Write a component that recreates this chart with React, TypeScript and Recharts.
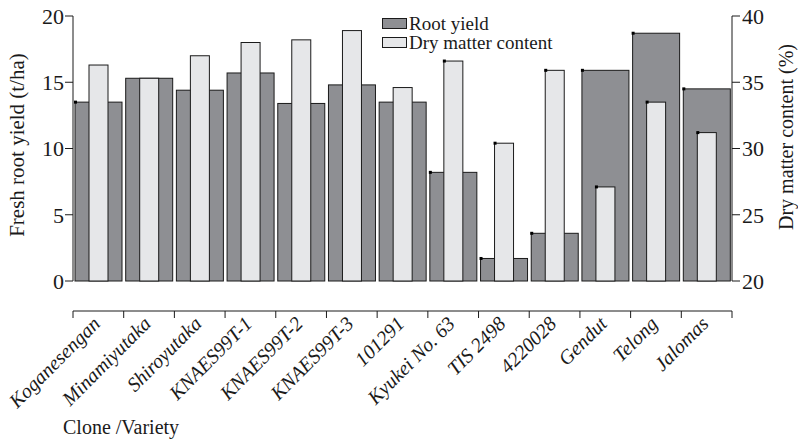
import React from 'react';
import { BarChart, Bar, XAxis, YAxis, Legend } from 'recharts';

const clones = [
  'Koganesengan', 'Minamiyutaka', 'Shiroyutaka', 'KNAES99T-1', 'KNAES99T-2', 'KNAES99T-3',
  '101291', 'Kyukei No. 63', 'TIS 2498', '4220028', 'Gendut', 'Telong', 'Jalomas',
];
const rootYield = [13.5, 15.3, 14.4, 15.7, 13.4, 14.8, 13.5, 8.2, 1.7, 3.6, 15.9, 18.7, 14.5];
const dryMatter = [36.3, 35.3, 37.0, 38.0, 38.2, 38.9, 34.6, 36.6, 30.4, 35.9, 27.1, 33.5, 31.2];
const yieldTicks = [0, 5, 10, 15, 20];
const dryTicks = [20, 25, 30, 35, 40];
// bars that carry the little corner dot in the original figure
const dottedYield = ['Koganesengan', 'Kyukei No. 63', 'TIS 2498', '4220028', 'Gendut', 'Telong', 'Jalomas'];
const dottedDry = ['Kyukei No. 63', 'TIS 2498', '4220028', 'Gendut', 'Telong', 'Jalomas'];

const data = clones.map((name, i) => ({ name, rootYield: rootYield[i], dryMatter: dryMatter[i] }));

const FONT = '"Liberation Serif", "Times New Roman", serif';
const DARK = '#8e8f93';
const LIGHT = '#e6e7e9';
const INK = '#1a1a1a';

const makeShape = (dotted: string[]) => (props: any) => {
  const { x, y, width, height, fill, payload } = props;
  const dot = payload && dotted.includes(payload.name);
  return (
    <g>
      <rect x={x} y={y} width={width} height={height} fill={fill} stroke={INK} strokeWidth={1} />
      {dot && <rect x={x - 1} y={y - 1.5} width={3} height={3} fill="#000" />}
    </g>
  );
};

const CloneTick = (props: any) => {
  const { x, y, payload, index, visibleTicksCount } = props;
  const half = payload.offset || 25.35;
  const last = index === (visibleTicksCount ?? clones.length) - 1;
  return (
    <g>
      <line x1={x - half} y1={y} x2={x - half} y2={y + 7} stroke={INK} />
      {last && <line x1={x + half} y1={y} x2={x + half} y2={y + 7} stroke={INK} />}
      <text
        x={x + 3}
        y={y + 14}
        transform={`rotate(-45, ${x + 3}, ${y + 14})`}
        textAnchor="end"
        fontFamily={FONT}
        fontStyle="italic"
        fontSize={20}
        fill={INK}
      >
        {payload.value}
      </text>
    </g>
  );
};

const LegendBox = () => (
  <div style={{ fontFamily: FONT, fontSize: 19, color: INK, lineHeight: '19px' }}>
    {[
      { label: 'Root yield', fill: DARK },
      { label: 'Dry matter content', fill: LIGHT },
    ].map((it) => (
      <div key={it.label} style={{ display: 'flex', alignItems: 'center', height: 19 }}>
        <span style={{ display: 'inline-block', width: 23, height: 9, background: it.fill, border: `1px solid ${INK}`, marginRight: 2 }} />
        <span>{it.label}</span>
      </div>
    ))}
  </div>
);

export default function App() {
  return (
    <div style={{ position: 'absolute', left: 0, top: 0, width: 798, height: 443, background: '#fff' }}>
      <BarChart width={798} height={443} data={data} margin={{ top: 16, right: 0, bottom: 0, left: 0 }}>
        <XAxis
          xAxisId="wide"
          dataKey="name"
          height={162}
          tickSize={0}
          tickMargin={0}
          interval={0}
          tick={<CloneTick />}
          stroke={INK}
        />
        <XAxis xAxisId="narrow" dataKey="name" hide />
        <YAxis
          yAxisId="left"
          width={73}
          domain={[0, 20]}
          ticks={yieldTicks}
          tickSize={8}
          tickMargin={1}
          stroke={INK}
          tick={{ fill: INK, fontSize: 22, fontFamily: FONT }}
        />
        <YAxis
          yAxisId="right"
          orientation="right"
          width={66}
          domain={[20, 40]}
          ticks={dryTicks}
          tickSize={8}
          tickMargin={2}
          stroke={INK}
          tick={{ fill: INK, fontSize: 22, fontFamily: FONT }}
        />
        <Legend
          layout="horizontal"
          verticalAlign="middle"
          align="center"
          content={<LegendBox />}
          wrapperStyle={{ top: 14, left: 382, width: 220 }}
        />
        <Bar
          xAxisId="wide"
          yAxisId="left"
          dataKey="rootYield"
          name="Root yield"
          fill={DARK}
          barSize={47}
          shape={makeShape(dottedYield)}
          isAnimationActive={false}
        />
        <Bar
          xAxisId="narrow"
          yAxisId="right"
          dataKey="dryMatter"
          name="Dry matter content"
          fill={LIGHT}
          barSize={19}
          shape={makeShape(dottedDry)}
          isAnimationActive={false}
        />
        <text
          x={17}
          y={145}
          transform="rotate(-90, 17, 145)"
          textAnchor="middle"
          dominantBaseline="central"
          fontFamily={FONT}
          fontSize={21}
          fill={INK}
        >
          Fresh root yield (t/ha)
        </text>
        <text
          x={786}
          y={137}
          transform="rotate(-90, 786, 137)"
          textAnchor="middle"
          dominantBaseline="central"
          fontFamily={FONT}
          fontSize={20}
          fill={INK}
        >
          Dry matter content (%)
        </text>
        <text x={63} y={434} fontFamily={FONT} fontSize={20} fill={INK}>
          Clone /Variety
        </text>
      </BarChart>
    </div>
  );
}
